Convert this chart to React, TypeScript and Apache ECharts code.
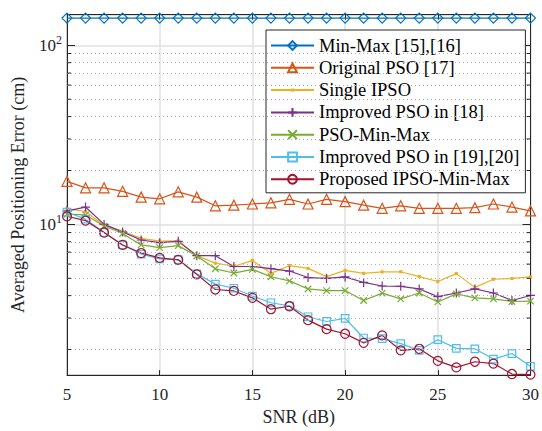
import React, { useEffect, useRef } from "react";
import * as echarts from "echarts";

const snr = [5, 6, 7, 8, 9, 10, 11, 12, 13, 14, 15, 16, 17, 18, 19, 20, 21, 22, 23, 24, 25, 26, 27, 28, 29, 30];
const minMax = [142, 142, 142, 142, 142, 142, 142, 142, 142, 142, 142, 142, 142, 142, 142, 142, 142, 142, 142, 142, 142, 142, 142, 142, 142, 142];
const originalPSO = [17.4, 16.0, 16.0, 15.3, 14.2, 13.9, 15.2, 14.2, 12.7, 12.8, 13.0, 13.2, 13.8, 13.0, 13.8, 13.4, 12.8, 12.3, 12.7, 12.3, 12.3, 12.3, 12.4, 13.0, 12.5, 11.9];
const singleIPSO = [12.2, 11.8, 9.87, 9.16, 8.35, 8.07, 8.1, 6.69, 6.08, 5.84, 6.28, 5.33, 5.89, 5.68, 5.11, 5.54, 5.33, 5.43, 5.44, 5.11, 4.8, 5.31, 4.45, 4.94, 4.99, 5.09];
const improved18 = [11.9, 12.5, 10.0, 9.08, 8.18, 7.91, 8.04, 6.69, 6.69, 5.82, 5.82, 5.66, 5.49, 5.05, 4.99, 5.09, 4.74, 4.53, 4.51, 4.36, 3.95, 4.14, 4.36, 4.14, 3.76, 4.01];
const psoMinMax = [11.4, 11.3, 9.79, 8.9, 7.68, 7.42, 7.61, 6.66, 5.65, 5.35, 5.61, 5.1, 4.84, 4.36, 4.27, 4.27, 3.76, 4.13, 3.84, 4.14, 3.69, 4.09, 3.89, 3.84, 3.71, 3.73];
const improved1920 = [11.7, 10.7, 9.01, 7.68, 6.83, 6.41, 6.36, 5.3, 4.64, 4.4, 3.98, 3.65, 3.51, 3.05, 2.87, 2.99, 2.32, 2.3, 2.16, 1.98, 2.27, 2.03, 2.02, 1.77, 1.9, 1.61];
const proposed = [11.1, 10.5, 9.01, 7.68, 6.92, 6.5, 6.34, 5.26, 4.33, 4.25, 3.89, 3.36, 3.49, 2.92, 2.6, 2.45, 2.18, 2.4, 1.98, 2.02, 1.73, 1.59, 1.71, 1.67, 1.46, 1.45];

const seriesNames = [
  "Min-Max [15],[16]",
  "Original PSO [17]",
  "Single IPSO",
  "Improved PSO in [18]",
  "PSO-Min-Max",
  "Improved PSO in [19],[20]",
  "Proposed IPSO-Min-Max",
];
const seriesColors = ["#0072BD", "#D95319", "#EDB120", "#7E2F8E", "#77AC30", "#4DBEEE", "#A2142F"];
const xTicks = [5, 10, 15, 20, 25, 30];
const minorGrid = [2, 3, 4, 5, 6, 7, 8, 9, 20, 30, 40, 50, 60, 70, 80, 90];

const SERIF = "Liberation Serif";
const TXT = "#262626";

export default function App() {
  const ref = useRef<HTMLDivElement>(null);
  useEffect(() => {
    if (!ref.current) return;
    const chart = echarts.init(ref.current, null, { renderer: "svg" });
    const allData = [minMax, originalPSO, singleIPSO, improved18, psoMinMax, improved1920, proposed];
    const symbols = [
      "diamond",
      "triangle",
      "path://M0,0 M20,20 M6.5,6.5 L13.5,6.5 L13.5,13.5 L6.5,13.5 Z",
      "path://M10,0 L10,20 M0,10 L20,10",
      "path://M0,0 L20,20 M20,0 L0,20",
      "rect",
      "circle",
    ];
    const sizes = [10, 10, 9, 9, 6.5, 7.5, 9];
    const hollow = [true, true, false, true, true, true, true];

    const series: any[] = [
      {
        name: "__grid",
        type: "line",
        data: snr.map((x, i) => [x, minMax[i]]),
        showSymbol: false,
        symbol: "none",
        lineStyle: { width: 0, opacity: 0 },
        silent: true,
        z: 1,
        markLine: {
          silent: true,
          symbol: ["none", "none"],
          label: { show: false },
          lineStyle: { type: [1, 3], color: "#b0b0b0", width: 1 },
          data: minorGrid.map((v) => ({ yAxis: v })),
        },
      },
    ];
    seriesNames.forEach((name, k) => {
      const c = seriesColors[k];
      series.push({
        name,
        type: "line",
        z: 3,
        data: snr.map((x, i) => [x, allData[k][i]]),
        symbol: symbols[k],
        symbolSize: sizes[k],
        showAllSymbol: true,
        lineStyle: { color: c, width: 1.2 },
        itemStyle: hollow[k]
          ? { color: "transparent", borderColor: c, borderWidth: 1.2 }
          : { color: c, borderColor: c, borderWidth: 0 },
        emphasis: { disabled: true },
      });
    });

    const yAxisBase = {
      type: "log",
      logBase: 10,
      min: 1.44,
      max: 148.3,
    };

    chart.setOption({
      animation: false,
      backgroundColor: "#ffffff",
      textStyle: { fontFamily: SERIF },
      grid: {
        left: 67,
        right: 4,
        top: 14.7,
        bottom: 48.5,
        show: true,
        borderColor: TXT,
        borderWidth: 1,
        backgroundColor: "transparent",
      },
      legend: {
        show: true,
        data: seriesNames,
        orient: "vertical",
        left: 266,
        top: 30,
        itemWidth: 43,
        itemHeight: 11,
        itemGap: 3.3,
        padding: [6, 6, 4, 4],
        backgroundColor: "#ffffff",
        borderColor: TXT,
        borderWidth: 1,
        borderRadius: 0,
        selectedMode: false,
        textStyle: { fontFamily: SERIF, fontSize: 18.5, color: "#000" },
      },
      xAxis: [
        {
          type: "value",
          min: 5,
          max: 30,
          interval: 5,
          name: "SNR (dB)",
          nameLocation: "middle",
          nameGap: 31,
          nameTextStyle: { fontFamily: SERIF, fontSize: 18, color: TXT },
          axisLine: { show: true, lineStyle: { color: TXT, width: 1 } },
          axisTick: { show: true, inside: true, length: 5, lineStyle: { color: TXT } },
          axisLabel: {
            fontFamily: SERIF,
            fontSize: 17,
            color: TXT,
            margin: 11,
            showMinLabel: true,
            showMaxLabel: true,
            alignMinLabel: "center",
            alignMaxLabel: "center",
            formatter: (v: number) => (xTicks.includes(v) ? String(v) : ""),
          },
          splitLine: { show: true, lineStyle: { color: "#e0e0e0", width: 1.5 } },
        },
        {
          type: "value",
          position: "top",
          min: 5,
          max: 30,
          interval: 5,
          axisLine: { show: true, lineStyle: { color: TXT, width: 1 } },
          axisTick: { show: true, inside: true, length: 5, lineStyle: { color: TXT } },
          axisLabel: { show: false },
          splitLine: { show: false },
        },
      ],
      yAxis: [
        {
          ...yAxisBase,
          name: "Averaged Positioning Error (cm)",
          nameLocation: "middle",
          nameGap: 40,
          nameTextStyle: { fontFamily: SERIF, fontSize: 18, color: TXT },
          axisLine: { show: true, lineStyle: { color: TXT, width: 1 } },
          axisTick: { show: true, inside: true, length: 8, lineStyle: { color: TXT } },
          axisLabel: {
            margin: 5,
            showMinLabel: false,
            showMaxLabel: false,
            formatter: (v: number) => {
              const l = Math.log10(v);
              if (Math.abs(l - Math.round(l)) < 1e-6) return `{b|10}{s|${Math.round(l)}}`;
              return "";
            },
            rich: {
              b: { fontFamily: SERIF, fontSize: 17, color: TXT },
              s: { fontFamily: SERIF, fontSize: 12, color: TXT, padding: [0, 0, 10, 0] },
            },
          },
          splitLine: { show: true, lineStyle: { color: "#e0e0e0", width: 1.5 } },
        },
        {
          ...yAxisBase,
          position: "right",
          axisLine: { show: true, lineStyle: { color: TXT, width: 1 } },
          axisTick: { show: true, inside: true, length: 8, lineStyle: { color: TXT } },
          axisLabel: { show: false },
          splitLine: { show: false },
        },
      ],
      series,
    });

    // minor ticks, placed through the axis scale
    const left = chart.convertToPixel({ xAxisIndex: 0 }, 5) as number;
    const right = chart.convertToPixel({ xAxisIndex: 0 }, 30) as number;
    const graphics: any[] = [];
    minorGrid.forEach((v) => {
      const y = chart.convertToPixel({ yAxisIndex: 0 }, v) as number;
      graphics.push({
        type: "line",
        shape: { x1: left, y1: y, x2: left + 4, y2: y },
        style: { stroke: TXT, lineWidth: 1 },
        silent: true,
        z: 10,
      });
      graphics.push({
        type: "line",
        shape: { x1: right - 4, y1: y, x2: right, y2: y },
        style: { stroke: TXT, lineWidth: 1 },
        silent: true,
        z: 10,
      });
    });
    chart.setOption({ graphic: graphics });

    return () => chart.dispose();
  }, []);
  return (
    <div
      ref={ref}
      style={{ position: "fixed", left: 0, top: 0, width: 542, height: 431, background: "#fff" }}
    />
  );
}
